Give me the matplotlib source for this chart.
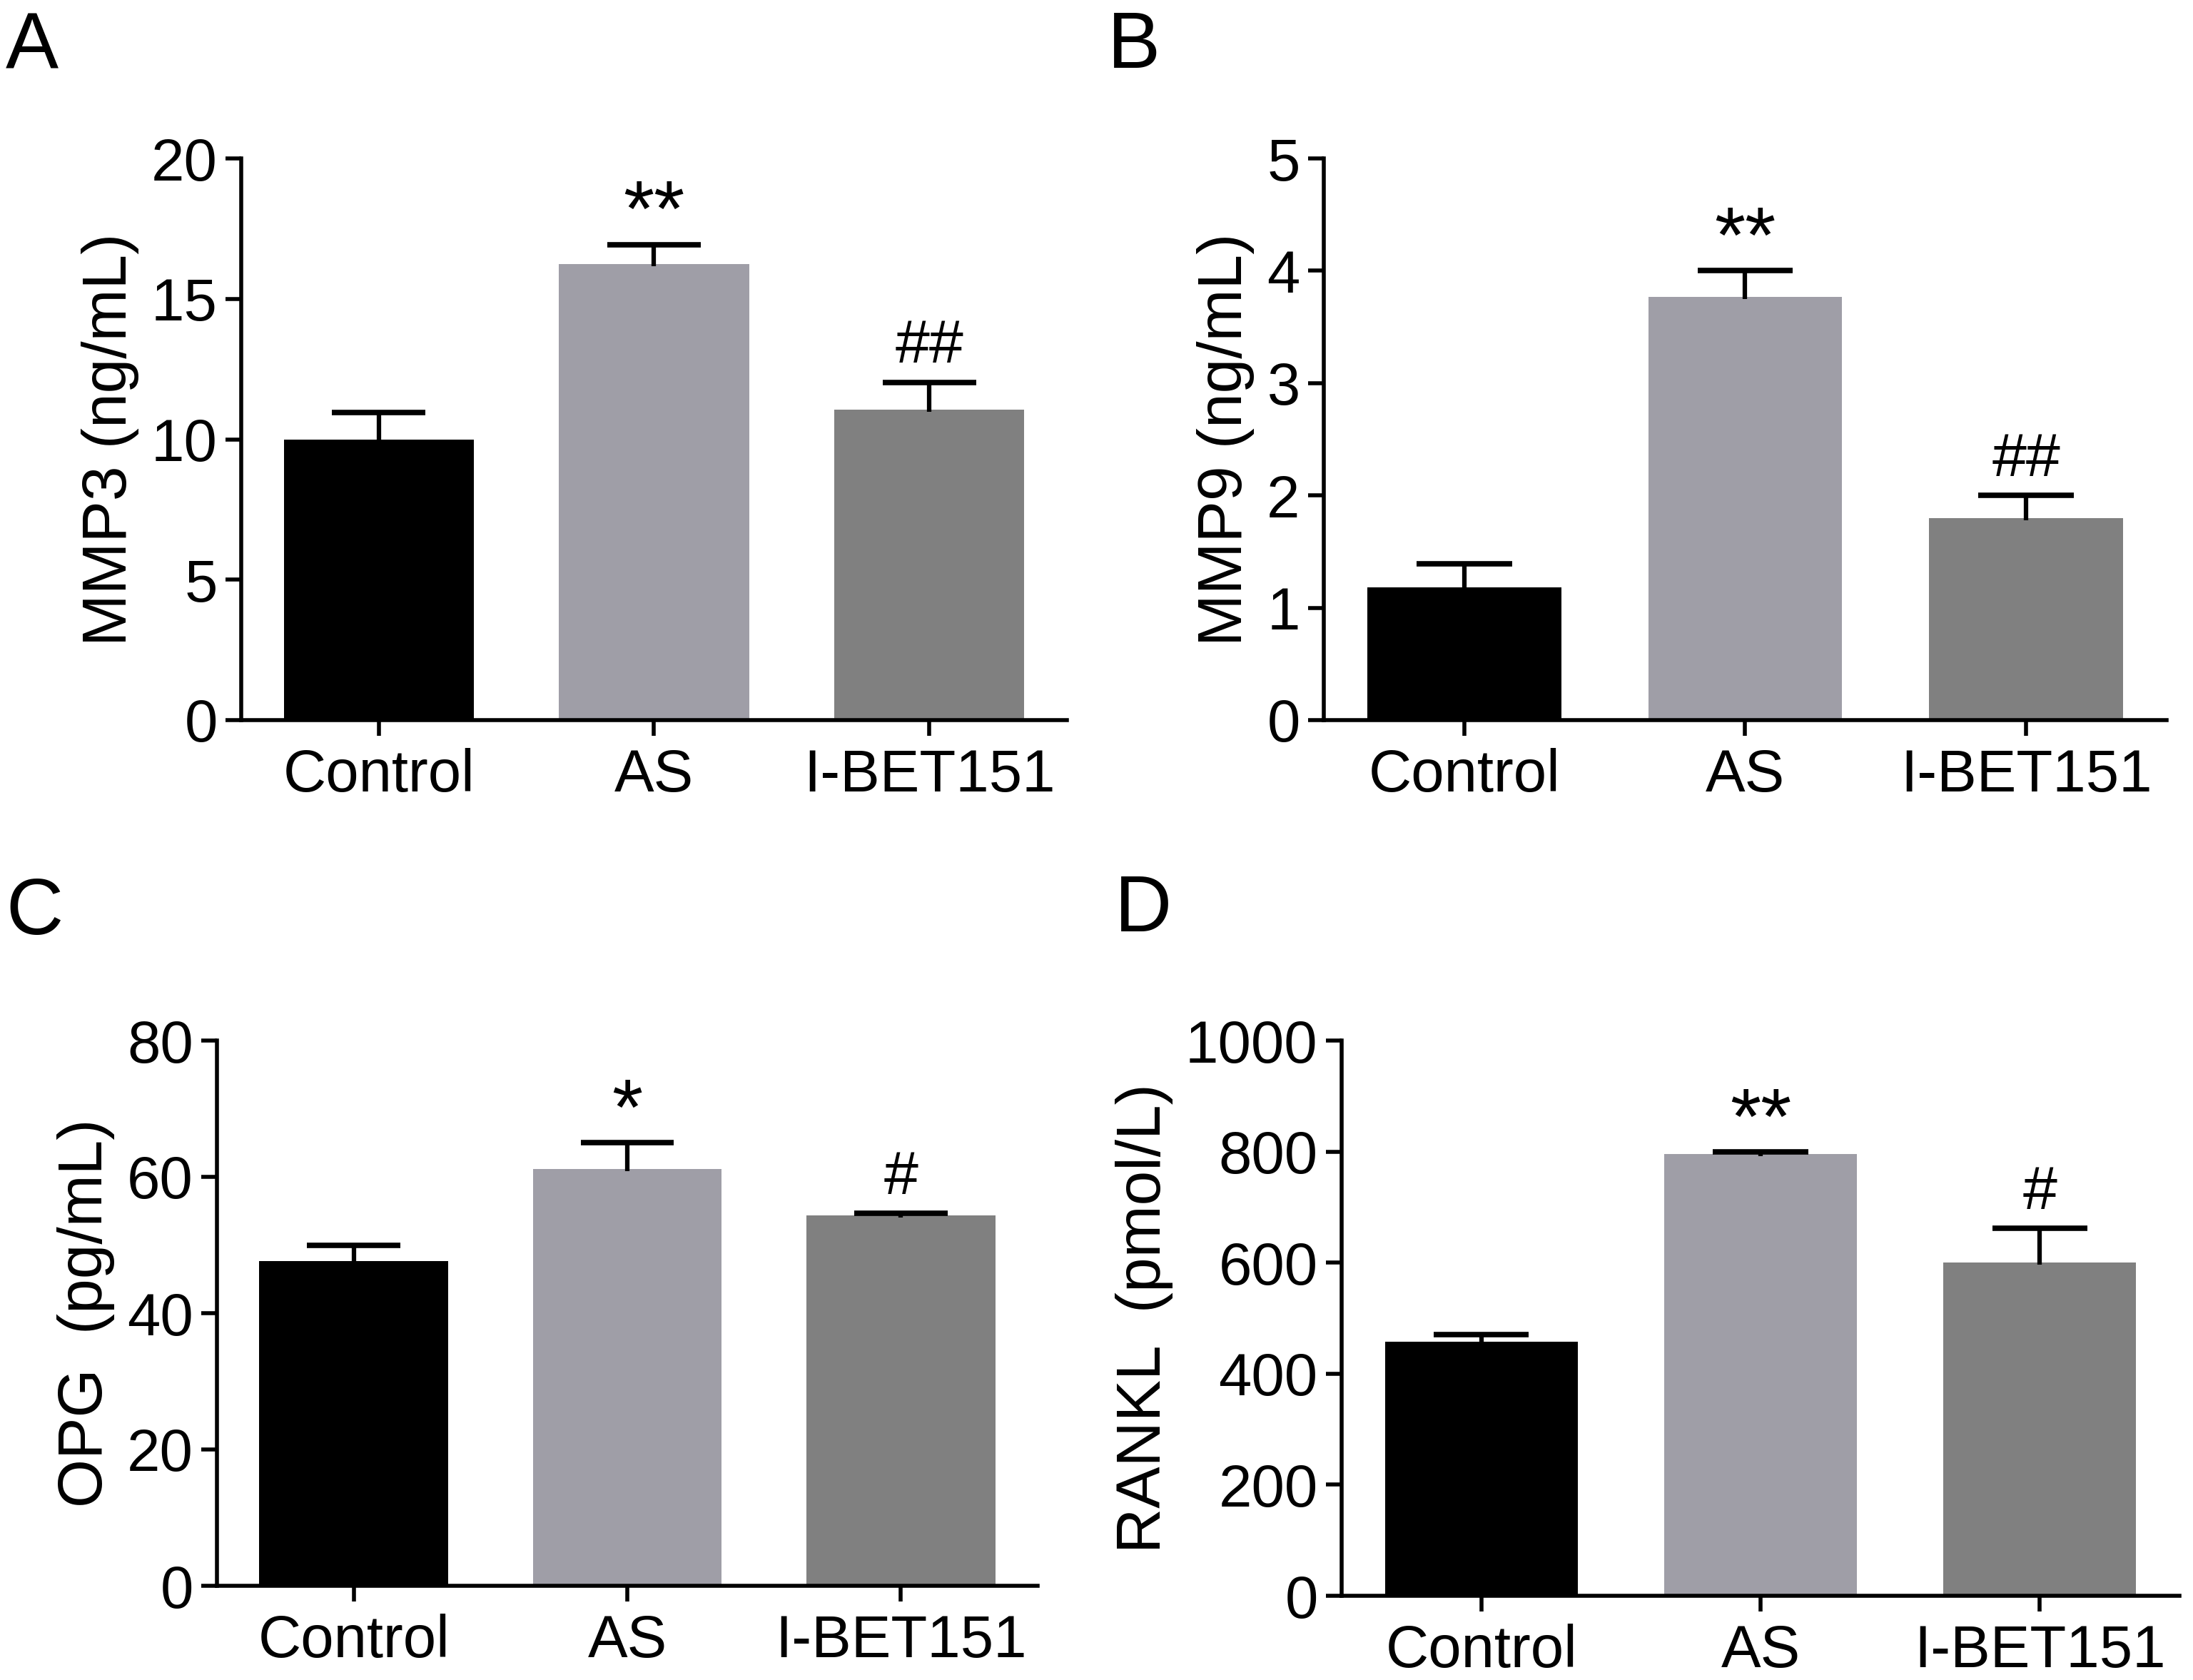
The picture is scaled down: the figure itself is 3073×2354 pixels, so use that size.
import numpy as np
import matplotlib
matplotlib.use('Agg')
import matplotlib.pyplot as plt

plt.rcParams['font.family'] = ['Liberation Sans', 'DejaVu Sans']

# groups and colours
groups = ['Control', 'AS', 'I-BET151']
bar_colors = ['#000000', '#9f9ea7', '#808080']

# panel A: MMP3
mmp3_mean = [10.0, 16.25, 11.05]
mmp3_err = [0.95, 0.68, 0.97]
mmp3_sig = ['', '**', '##']

# panel B: MMP9
mmp9_mean = [1.18, 3.77, 1.80]
mmp9_err = [0.21, 0.23, 0.20]
mmp9_sig = ['', '**', '##']

# panel C: OPG
opg_mean = [47.6, 61.2, 54.3]
opg_err = [2.3, 3.8, 0.4]
opg_sig = ['', '*', '#']

# panel D: RANKL
rankl_mean = [457, 796, 600]
rankl_err = [14, 3, 62]
rankl_sig = ['', '**', '#']

W, H = 3073, 2354
fig = plt.figure(figsize=(W / 100, H / 100), dpi=100)

def px_axes(left, right, top, bottom):
    return fig.add_axes([left / W, 1 - bottom / H, (right - left) / W, (bottom - top) / H])

def bar_panel(ax, mean, err, sig, ymax, step, ylabel):
    x = np.arange(len(groups))
    mean = np.asarray(mean, dtype=float)
    err = np.asarray(err, dtype=float)
    ax.bar(x, mean, width=0.69, color=bar_colors, zorder=2)
    # upper error bars only (T shape)
    ax.vlines(x, mean - 0.004 * ymax, mean + err, color='black', lw=4.5, zorder=3)
    ax.hlines(mean + err, x - 0.17, x + 0.17, color='black', lw=5.5, zorder=3)
    for xi, top, s in zip(x, mean + err, sig):
        if not s:
            continue
        if s.startswith('*'):
            # asterisks drawn larger, they sit high in the glyph box
            ax.text(xi, top + 0.015 * ymax, s, ha='center', va='baseline', fontsize=80)
        else:
            ax.text(xi, top + 0.035 * ymax, s, ha='center', va='baseline', fontsize=62)
    ax.set_xlim(-0.5, 2.5)
    ax.set_ylim(0, ymax)
    ax.set_yticks(np.arange(0, ymax + step / 2, step))
    ax.set_xticks(x)
    ax.set_xticklabels(groups)
    ax.set_ylabel(ylabel, fontsize=63, labelpad=12)
    for side in ['top', 'right']:
        ax.spines[side].set_visible(False)
    for side in ['left', 'bottom']:
        ax.spines[side].set_linewidth(4)
    ax.tick_params(axis='both', direction='out', length=16, width=4, labelsize=60, pad=8)
    ax.tick_params(axis='x', pad=12)

axA = px_axes(338, 1495, 222, 1009)
bar_panel(axA, mmp3_mean, mmp3_err, mmp3_sig, 20, 5, 'MMP3 (ng/mL)')
axB = px_axes(1855, 3036, 222, 1009)
bar_panel(axB, mmp9_mean, mmp9_err, mmp9_sig, 5, 1, 'MMP9 (ng/mL)')
axC = px_axes(304, 1454, 1458, 2222)
bar_panel(axC, opg_mean, opg_err, opg_sig, 80, 20, 'OPG  (pg/mL)')
axD = px_axes(1880, 3054, 1458, 2236)
bar_panel(axD, rankl_mean, rankl_err, rankl_sig, 1000, 200, 'RANKL  (pmol/L)')

for letter, fx, fy in [('A', 8, 14), ('B', 1552, 14), ('C', 8, 1228), ('D', 1562, 1224)]:
    fig.text(fx / W, 1 - fy / H, letter, fontsize=80, ha='left', va='top')

fig.savefig('out.png', dpi=100)
